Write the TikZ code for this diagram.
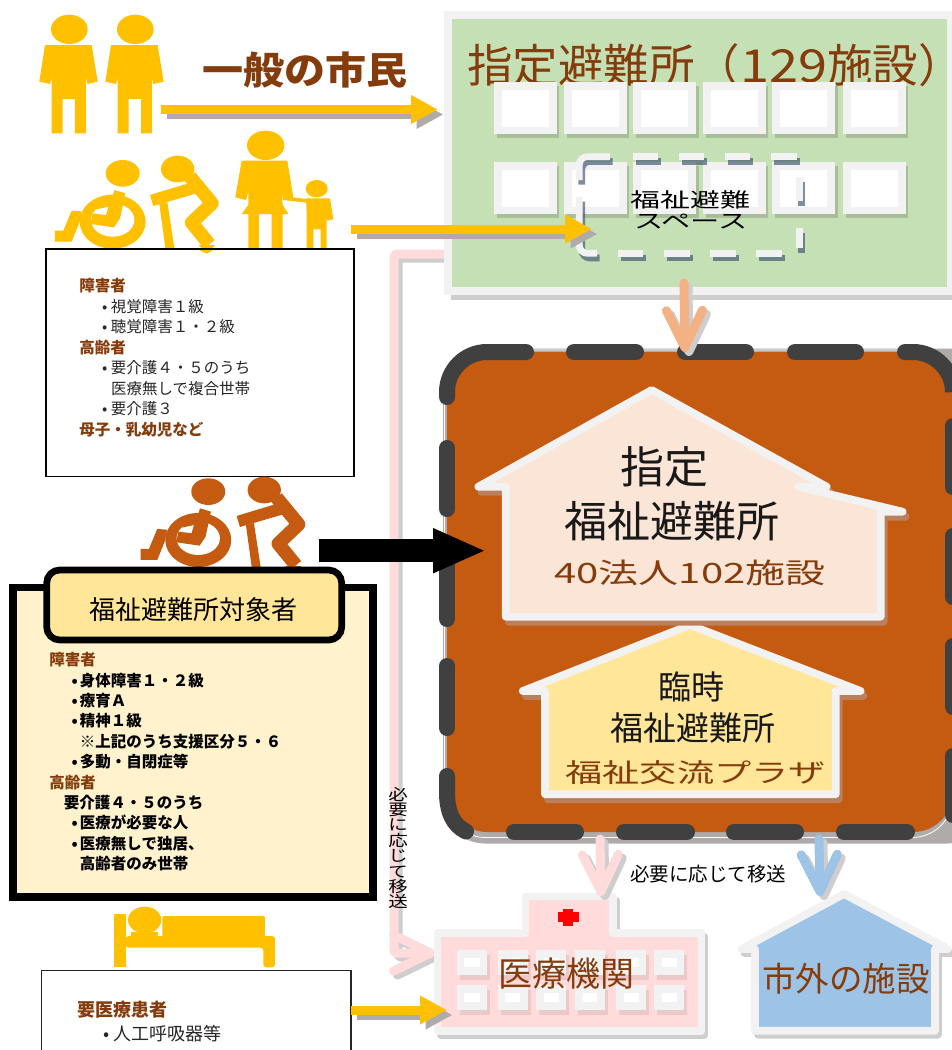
\documentclass[tikz,border=0pt]{standalone}
\usepackage{fontspec}
\usepackage{graphicx}
\setmainfont{Noto Sans CJK JP}
\usetikzlibrary{arrows.meta}
\definecolor{cYel}{HTML}{FFC000}
\definecolor{cOra}{HTML}{C55A11}
\definecolor{cBrn}{HTML}{843C0C}
\definecolor{cSal}{HTML}{F4B183}
\definecolor{cGrn}{HTML}{C5E0B4}
\definecolor{cBor}{HTML}{F2F2F2}
\definecolor{cPeach}{HTML}{FBE5D6}
\definecolor{cGold}{HTML}{FFE699}
\definecolor{cCream}{HTML}{FFF2CC}
\definecolor{cPink}{HTML}{FFDBDB}
\definecolor{cBlue}{HTML}{9DC3E6}
\definecolor{cDark}{HTML}{404040}
\definecolor{cSha}{HTML}{AFABAB}
\definecolor{cShb}{HTML}{CFCDCD}
\definecolor{cHouSha}{HTML}{BC7F5B}
\definecolor{cTxt}{HTML}{262626}
\newcommand{\fs}[1]{\fontsize{#1}{#1}\selectfont}
\newlength{\bind}\newlength{\bgap}
\newcommand{\bl}[1]{\hspace*{\bind}\makebox[\bgap][l]{•}#1}
\newcommand{\cn}[1]{\hspace*{\bind}\hspace*{\bgap}#1}
\tikzset{
  lbl/.style={inner sep=0pt,outer sep=0pt},
  fat/.style={line width=9pt,-{Triangle[length=27pt,width=27pt]}},
  barb/.style={line width=9pt,line cap=round,line join=round,rounded corners=3pt,-{Straight Barb[length=37pt,width=36pt,round]}},
  dashseg/.style={line width=16pt,line cap=round,cDark},
  sp/.style={line width=6.7pt,cBor,rounded corners=8pt},
  spsh/.style={line width=6.7pt,color={rgb,255:red,60;green,80;blue,110},opacity=.65,rounded corners=8pt},
  house/.style={draw=cBor,line width=7.7pt,line join=round,line cap=round},
  houseshade/.style={draw=#1,fill=#1,line width=7.7pt,line join=round,line cap=round},
  listbox/.style={lbl,anchor=north west,align=left},
}
\newcommand{\fatarrow}[4]{%
  \draw[fat,#2,transform canvas={shift={(5.5pt,-5pt)}}] (#3)--(#4);
  \draw[fat,#1] (#3)--(#4);}
\newcommand{\barbarrow}[2]{%
  \draw[barb,cShb,transform canvas={shift={(4pt,-4pt)}}] #2;
  \draw[barb,#1] #2;}
\newcommand{\man}[3]{\begin{scope}[shift={(#1,#2)},scale=1/3]
  \fill[#3] (208,88) ellipse [x radius=55pt,y radius=44pt];
  \fill[#3] (135,135)--(275,135)--(293,245)--(262,252)--(258,232)--(258,400)--(225,400)--(225,297)--(188,297)--(188,400)--(155,400)--(155,232)--(150,252)--(118,245)--cycle;
\end{scope}}
\newcommand{\wheelie}[3]{\begin{scope}[shift={(#1,#2)},scale=1/3]
  \fill[#3] (368,520) ellipse [x radius=51pt,y radius=40pt];
  \fill[#3] (338,665) ellipse [x radius=99pt,y radius=81pt];
  \fill[white] (338,660) ellipse [x radius=65pt,y radius=50pt];
  \fill[#3] (343,570)--(376,580)--(360,655)--(342,682)--(272,672)--(278,640)--(318,645)--(325,620)--(290,628)--(300,610)--(335,600)--cycle;
  \fill[#3] (165,692)--(190,692)--(215,632)--(245,634)--(238,668)--(215,725)--(165,725)--cycle;
\end{scope}}
\newcommand{\caner}[3]{\begin{scope}[shift={(#1,#2)},scale=1/3]
  \fill[#3] (533,507) ellipse [x radius=50pt,y radius=40pt];
  \fill[#3] (450,585)--(565,550)--(590,580)--(460,618)--cycle;
  \fill[#3] (478,612)--(502,606)--(524,750)--(497,750)--cycle;
  \draw[#3,line width=13.5pt,line join=round] (570,530)--(636,610)--(575,668)--(628,733);
  \fill[#3] (596,735)--(645,735)--(622,762)--cycle;
\end{scope}}
\begin{document}
\begin{tikzpicture}[x=1pt,y=-1pt]
\useasboundingbox (0,0) rectangle (952,1050);
\fill[white] (0,0) rectangle (952,1050);
% named ends
\coordinate (a1s) at (161,109.5); \coordinate (a1e) at (438,109.5);
\coordinate (a2s) at (351,229);   \coordinate (a2e) at (592,229);
\coordinate (a3s) at (351,1010);  \coordinate (a3e) at (447,1010);
\coordinate (bks) at (319.3,550.7); \coordinate (bke) at (486,550.7);
\coordinate (ors) at (684,283); \coordinate (ore) at (685,352);
\coordinate (pks) at (600,839); \coordinate (pke) at (601,896);
\coordinate (bls) at (819,839); \coordinate (ble) at (820,896);
\coordinate (els) at (446,254); \coordinate (elc) at (394,254); \coordinate (eld) at (394,953); \coordinate (ele) at (435,953);
% figures
\man{0}{0}{cYel}
\man{66}{0}{cYel}
\wheelie{0}{0}{cYel}
\caner{0}{0}{cYel}
\begin{scope}[scale=1/3]
  \fill[cYel] (797,436) ellipse [x radius=56pt,y radius=44pt];
  \fill[cYel] (725,482)--(862,482)--(880,592)--(918,597)--(918,608)--(850,600)--(845,575)--(848,615)--(865,642)--(848,642)--(848,750)--(815,750)--(815,642)--(777,642)--(777,750)--(745,750)--(745,642)--(725,642)--(745,615)--(745,575)--(738,600)--(706,592)--cycle;
  \fill[cYel] (950,566) ellipse [x radius=33pt,y radius=26pt];
  \fill[cYel] (918,595)--(990,595)--(1000,658)--(982,662)--(980,650)--(980,750)--(962,750)--(962,688)--(940,688)--(940,750)--(920,750)--(920,640)--cycle;
\end{scope}
\node[lbl,text=cBrn] (ippan) at (305,70) {\fs{38}\scalebox{1.08}[1]{\bfseries 一般の市民}};
\fatarrow{cYel}{cSha}{a1s}{a1e}
% text box 1
\node[lbl,draw=black,line width=1.5pt,fill=white,minimum width=308pt,minimum height=227.7pt,anchor=north west] (box1) at (46,249) {};
\fill[cYel] (199,250)--(213,250)--(207,253.7)--cycle;
\setlength{\bind}{22.7pt}\setlength{\bgap}{9pt}
\node[listbox,text=cTxt,font=\fontsize{15.5}{20.5}\selectfont] (list1) at (79.3,278.3) {
  {\bfseries\color{cBrn}障害者}\\
  \bl{視覚障害１級}\\
  \bl{聴覚障害１・２級}\\
  {\bfseries\color{cBrn}高齢者}\\
  \bl{要介護４・５のうち}\\
  \cn{医療無しで複合世帯}\\
  \bl{要介護３}\\
  {\bfseries\color{cBrn}母子・乳幼児など}};
% orange figures
\wheelie{85.6}{318.3}{cOra}
\caner{86.6}{321}{cOra}
% box 2
\node[lbl,draw=black,line width=7.5pt,fill=cCream,minimum width=360pt,minimum height=309.5pt,anchor=north west] (box2) at (13,587.5) {};
\node[lbl,draw=black,line width=6.7pt,fill=cGold,rounded corners=13pt,minimum width=295pt,minimum height=70pt,anchor=north west] (hdr) at (46.7,570) {};
\node[lbl] (hdrtxt) at (193.3,609.3) {\fs{26}福祉避難所対象者};
\setlength{\bind}{22.4pt}\setlength{\bgap}{8.3pt}
\node[listbox,text=black,font=\fontsize{15.5}{20.4}\selectfont\bfseries] (list2) at (49.3,652.5) {
  {\color{cBrn}障害者}\\
  \bl{身体障害１・２級}\\
  \bl{療育Ａ}\\
  \bl{精神１級}\\
  \cn{※上記のうち支援区分５・６}\\
  \bl{多動・自閉症等}\\
  {\color{cBrn}高齢者}\\
  \hspace*{14.7pt}要介護４・５のうち\\
  \bl{医療が必要な人}\\
  \bl{医療無しで独居、}\\
  \cn{高齢者のみ世帯}};
% bed
\begin{scope}[yshift=-880pt,scale=1/3]
  \fill[cYel] (342,102) rectangle (377,262);
  \fill[cYel] (434,120) ellipse [x radius=50pt,y radius=40pt];
  \fill[cYel] (392,155) rectangle (475,170);
  \fill[cYel,rounded corners=2pt] (487,170)--(487,108)--(795,108)--(795,170)--cycle;
  \fill[cYel,rounded corners=3pt] (377,168)--(825,168)--(825,262)--(790,262)--(790,203)--(377,203)--cycle;
\end{scope}
% box 3
\node[lbl,draw=black!85,line width=1.5pt,fill=white,minimum width=309.3pt,minimum height=100pt,anchor=north west] (box3) at (41.7,970.7) {};
\setlength{\bind}{26pt}\setlength{\bgap}{10.7pt}
\node[listbox,text=cTxt,font=\fontsize{18}{24}\selectfont] (list3) at (77.3,1001) {
  {\bfseries\color{cBrn}要医療患者}\\
  \bl{人工呼吸器等}};
% pink elbow connector
\barbarrow{cPink}{(els)--(elc)--(eld)--(ele)}
% green box
\fill[cShb] (451,20) rectangle (960,300);
\node[lbl,draw=cBor,line width=8pt,fill=cGrn,minimum width=503pt,minimum height=276pt,anchor=north west] (green) at (448,15) {};
\node[lbl,text=cBrn,anchor=west] (gtitle) at (467,65) {\fs{45.5}指定避難所（\scalebox{1.15}[1]{129}施設\makebox[18pt][l]{）}};
\foreach \xa/\xb in {494.3/556.7,564.3/626.7,633.3/696,703.3/765.7,772.3/835,843.3/905.7}
 \foreach \ya/\yb in {82.3/134.3,162.3/214.3}{
  \fill[black,opacity=.15] (\xa+2.5,\ya+4) rectangle (\xb+2.5,\yb+4);
  \draw[cBor,line width=7.7pt,fill=white] (\xa+3.85,\ya+3.85) rectangle (\xb-3.85,\yb-3.85);
 }
% dashed space
\begin{scope}[shift={(2.5,4.7)}]
 \draw[spsh] (579.3,180)--(579.3,156.7)--(610,156.7);
 \draw[spsh] (579.3,197)--(579.3,253.3)--(597,253.3);
 \foreach \a/\b in {633.3/658.3,679.3/704.3,725/750}{\draw[spsh] (\a,156.7)--(\b,156.7);}
 \draw[spsh] (771,156.7)--(797,156.7);
 \foreach \a/\b in {618/643,664/690,710/736,756/782}{\draw[spsh] (\a,253.3)--(\b,253.3);}
 \foreach \a/\b in {177/201,228/248}{\draw[spsh] (799.3,\a)--(799.3,\b);}
\end{scope}
 \draw[sp] (579.3,180)--(579.3,156.7)--(610,156.7);
 \draw[sp] (579.3,197)--(579.3,253.3)--(597,253.3);
 \foreach \a/\b in {633.3/658.3,679.3/704.3,725/750}{\draw[sp] (\a,156.7)--(\b,156.7);}
 \draw[sp] (771,156.7)--(797,156.7);
 \foreach \a/\b in {618/643,664/690,710/736,756/782}{\draw[sp] (\a,253.3)--(\b,253.3);}
 \foreach \a/\b in {177/201,228/248}{\draw[sp] (799.3,\a)--(799.3,\b);}
\node[lbl] (space1) at (690.7,200) {\fs{20}\scalebox{1.5}[1]{福祉避難}};
\node[lbl] (space2) at (691,222) {\fs{20}\scalebox{1.46}[1]{スペース}};
\fatarrow{cYel}{cSha}{a2s}{a2e}
% brown zone
\fill[cSha,rounded corners=42pt] (443,348.5) rectangle (990,843.5);
\draw[white,line width=.8pt,rounded corners=41pt] (444.5,350) rectangle (953,837.5);
\fill[cOra,rounded corners=40pt] (447,352) rectangle (953,832);
\foreach \a/\b in {574/636,685/746,795/856}{\draw[dashseg] (\a,352)--(\b,352);}
\draw[dashseg] (447,397)--(447,392) .. controls (447,370) and (465,352) .. (487,352)--(526,352);
\draw[dashseg] (905,352)--(913,352) .. controls (935,352) and (953,370) .. (953,392)--(953,377);
\foreach \a/\b in {426/487,536/597,646/707,756/815}{\draw[dashseg] (953,\a)--(953,\b);}
\foreach \a/\b in {514/576,624/687,734/796,844/907}{\draw[dashseg] (\a,832)--(\b,832);}
\foreach \a/\b in {448/509,556/619,666/728}{\draw[dashseg] (447,\a)--(447,\b);}
\draw[dashseg] (447,776)--(447,792) .. controls (447,812) and (453,825) .. (466,831.5);
% small house first (tip under big house)
\path[houseshade=cHouSha,shift={(3,5)}] (690,625)--(522.7,691)--(545,691)--(545,794.3)--(835.7,794.3)--(835.7,691)--(860.7,691)--cycle;
\path[house,fill=cGold] (690,625)--(522.7,691)--(545,691)--(545,794.3)--(835.7,794.3)--(835.7,691)--(860.7,691)--cycle;
% big house
\path[houseshade=cHouSha,shift={(3,5)}] (651.7,390)--(478.3,486.7)--(505.7,486.7)--(505.7,616.7)--(880.7,616.7)--(880.7,511.7)--(902.7,511.7)--(798.3,486.7)--(826.7,486.7)--cycle;
\path[house,fill=cPeach] (651.7,390)--(478.3,486.7)--(505.7,486.7)--(505.7,616.7)--(880.7,616.7)--(880.7,511.7)--(902.7,511.7)--(798.3,486.7)--(826.7,486.7)--cycle;
\node[lbl,text=black!90] (big1) at (664,467) {\fs{44}指定};
\node[lbl,text=black!90] (big2) at (672.3,521.7) {\fs{43}福祉避難所};
\node[lbl,text=cBrn] (big3) at (690,573) {\fs{28}\scalebox{1.43}[1]{40法人102施設}};
\node[lbl,text=black!90] (sm1) at (691.7,687.3) {\fs{33}臨時};
\node[lbl,text=black!90] (sm2) at (693,728) {\fs{33}福祉避難所};
\node[lbl,text=cBrn] (sm3) at (695.7,773) {\fs{26}\scalebox{1.43}[1]{福祉交流プラザ}};
% black arrow
\draw[line width=23pt,black,-{Triangle[length=53pt,width=41pt]}] (bks)--(bke);
% orange arrow
\barbarrow{cSal}{(ors)--(ore)}
% hospital
\begin{scope}[shift={(3,4)}]
 \path[houseshade=cShb] (437.5,933)--(525.5,933)--(525.5,896.5)--(613,896.5)--(613,933)--(701.5,933)--(701.5,1030.7)--(437.5,1030.7)--cycle;
\end{scope}
\path[house,fill=cPink] (437.5,933)--(525.5,933)--(525.5,896.5)--(613,896.5)--(613,933)--(701.5,933)--(701.5,1030.7)--(437.5,1030.7)--cycle;
\fill[red] (557.8,912.3) rectangle (578.8,922.3);
\fill[red] (563.3,909) rectangle (573.3,926);
\foreach \xa/\xb in {456.6/487,497.5/527.8,536/566,575/604.5,616/646.4,654/684}
 \foreach \ya/\yb in {950/975,985/1010}{
  \fill[black,opacity=.08] (\xa+3,\ya+5) rectangle (\xb+3,\yb+5);
  \fill[cBor] (\xa,\ya) rectangle (\xb,\yb);
  \fill[white] (\xa+7.5,\ya+7.5) rectangle (\xb-7.5,\yb-8);
 }
\node[lbl,text=cBrn] (hosp) at (566,974) {\fs{34}医療機関};
% blue house
\path[houseshade=cShb,shift={(3,4)}] (844,894)--(741.5,949)--(755,949)--(755,1030.7)--(935,1030.7)--(935,949)--(948,949)--cycle;
\path[house,fill=cBlue] (844,894)--(741.5,949)--(755,949)--(755,1030.7)--(935,1030.7)--(935,949)--(948,949)--cycle;
\node[lbl,text=cBrn] (outer) at (846,979) {\fs{33.5}市外の施設};
% connectors below zone
\barbarrow{cPink}{(pks)--(pke)}
\barbarrow{cBlue}{(bls)--(ble)}
\fatarrow{cYel}{cSha}{a3s}{a3e}
\node[lbl] (move1) at (708,874) {\fs{19.5}必要に応じて移送};
\node[lbl,align=center,font=\fontsize{19.5}{15.4}\selectfont] (move2) at (398,848) {
  \scalebox{1}[.8]{必}\\\scalebox{1}[.8]{要}\\\scalebox{1}[.8]{に}\\\scalebox{1}[.8]{応}\\\scalebox{1}[.8]{じ}\\\scalebox{1}[.8]{て}\\\scalebox{1}[.8]{移}\\\scalebox{1}[.8]{送}};
\end{tikzpicture}
\end{document}
